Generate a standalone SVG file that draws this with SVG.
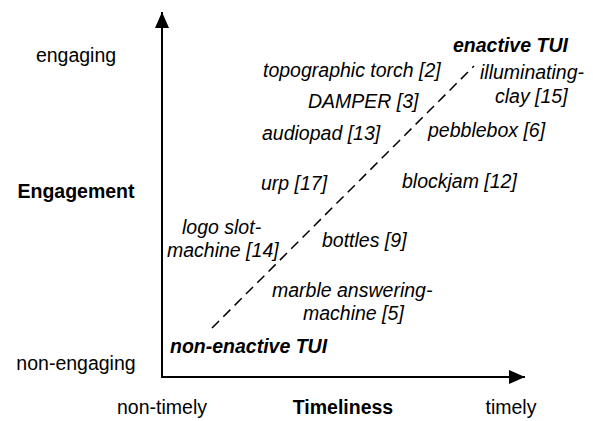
<svg xmlns="http://www.w3.org/2000/svg" width="593" height="421" viewBox="0 0 593 421">
<style>
text{font-family:"Liberation Sans",Arial,sans-serif;font-size:19.5px;fill:#000}
.b{font-weight:bold}
.i{font-style:italic}
.m{text-anchor:middle}
.axis{stroke:#000;stroke-width:2;fill:none}
.dash{stroke:#000;stroke-width:1.5;fill:none;stroke-dasharray:10 6}
</style>
<defs>
<marker id="ah" viewBox="0 0 16 14" refX="16" refY="7" markerWidth="16" markerHeight="14" markerUnits="userSpaceOnUse" orient="auto">
<path d="M0,0 L16,7 L0,14 Z" fill="#000"/>
</marker>
</defs>
<rect width="593" height="421" fill="#fff"/>
<g id="connectors">
<line class="axis" x1="162" y1="377" x2="162" y2="12" marker-end="url(#ah)"/>
<line class="axis" x1="161" y1="377" x2="525" y2="377" marker-end="url(#ah)"/>
<line class="dash" x1="212" y1="328" x2="474" y2="66"/>
</g>
<g id="axis-labels">
<text class="m" x="76" y="62">engaging</text>
<text class="m b" x="76" y="198">Engagement</text>
<text class="m" x="76" y="370">non-engaging</text>
<text class="m" x="162" y="414">non-timely</text>
<text class="m b" x="343" y="414">Timeliness</text>
<text class="m" x="511" y="414">timely</text>
</g>
<g id="enactive"><text class="b i" x="453" y="52">enactive TUI</text></g>
<g id="non-enactive"><text class="b i" x="170" y="353">non-enactive TUI</text></g>
<g id="topographic-torch"><text class="i" x="263" y="77">topographic torch [2]</text></g>
<g id="illuminating-clay"><text class="i" x="480" y="79">illuminating-</text><text class="i" x="495" y="103">clay [15]</text></g>
<g id="damper"><text class="i" x="308" y="108">DAMPER [3]</text></g>
<g id="audiopad"><text class="i" x="262" y="140">audiopad [13]</text></g>
<g id="pebblebox"><text class="i" x="428" y="137">pebblebox [6]</text></g>
<g id="urp"><text class="i" x="261" y="190">urp [17]</text></g>
<g id="blockjam"><text class="i" x="402" y="188">blockjam [12]</text></g>
<g id="logo-slot-machine"><text class="i" x="182" y="234">logo slot-</text><text class="i" x="167" y="257">machine [14]</text></g>
<g id="bottles"><text class="i" x="322" y="247">bottles [9]</text></g>
<g id="marble"><text class="i" x="272" y="297">marble answering-</text><text class="i" x="303" y="320">machine [5]</text></g>
</svg>
